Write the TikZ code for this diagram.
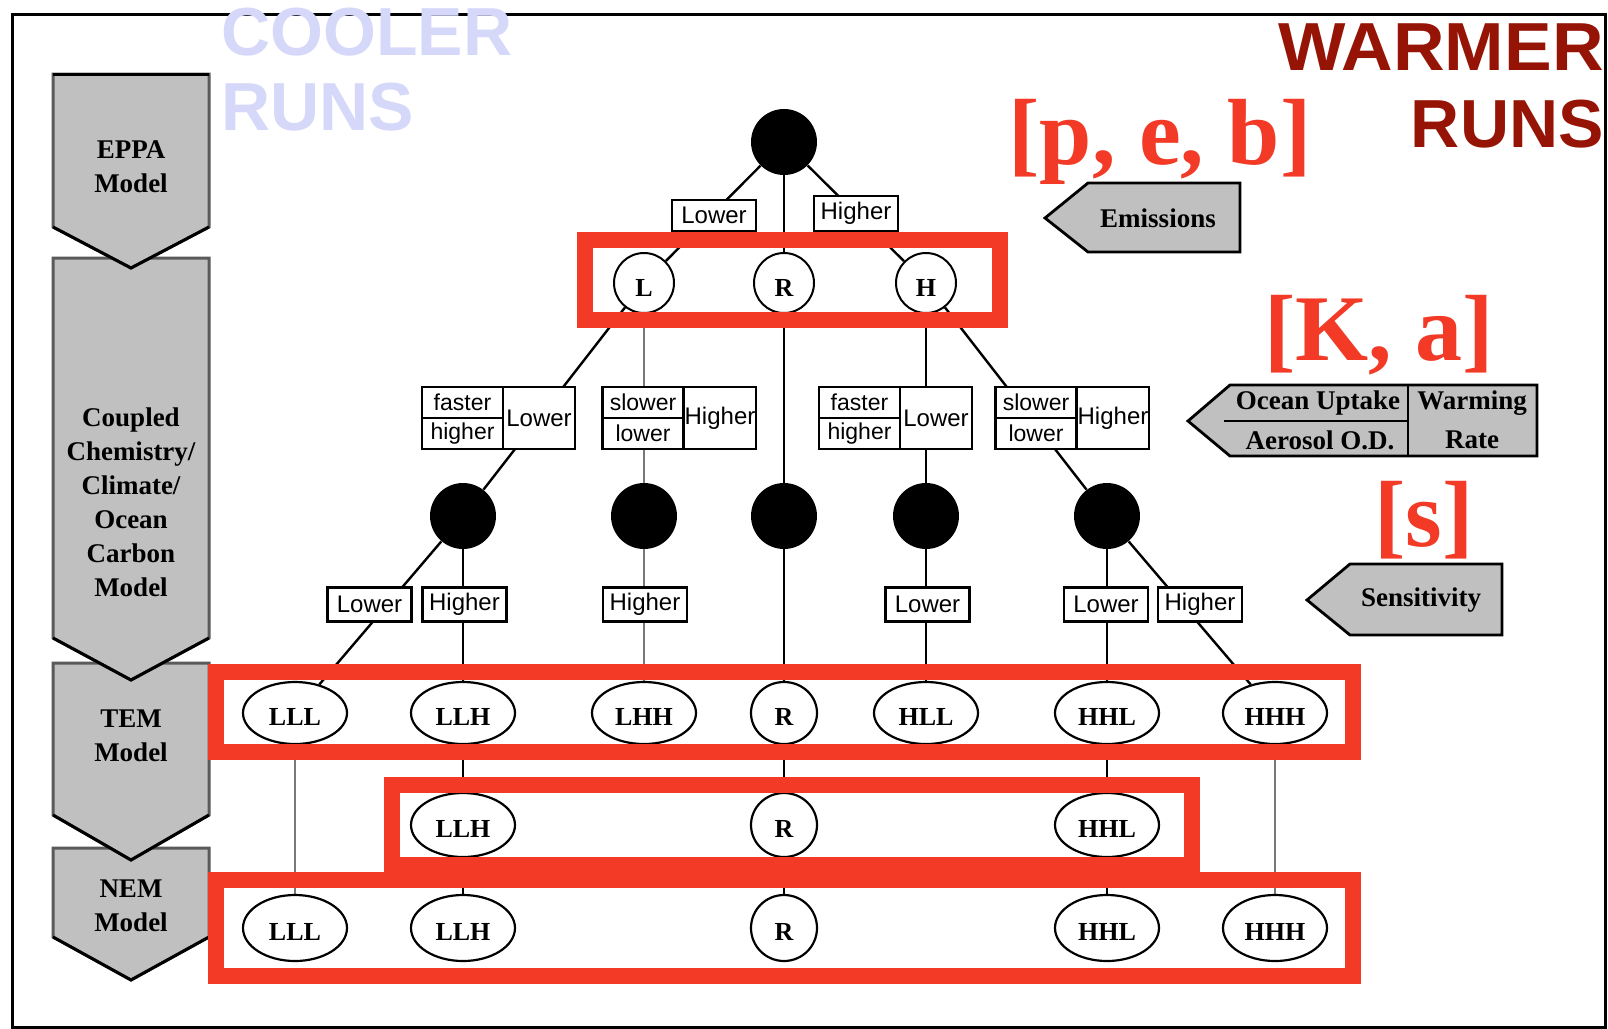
\documentclass[tikz,border=0pt]{standalone}
\usepackage{fontspec}
\setmainfont{Liberation Serif}
\setsansfont{Liberation Sans}
\usetikzlibrary{shapes.geometric}
\pgfdeclarelayer{bg}
\pgfdeclarelayer{canvas}
\pgfsetlayers{canvas,bg,main}
\definecolor{chevgray}{RGB}{192,192,192}
\definecolor{chevedge}{RGB}{90,90,90}
\definecolor{boxred}{RGB}{242,58,38}
\definecolor{warmred}{RGB}{150,20,5}
\definecolor{coolblue}{RGB}{214,216,250}
\definecolor{linegray}{RGB}{120,120,120}
\begin{document}
\begin{tikzpicture}[x=0.5pt,y=-0.5pt,
  conn/.style={line width=1.2pt, black},
  gconn/.style={line width=1.2pt, linegray},
  blackdot/.style={circle, fill=black, draw=none, minimum size=33pt, inner sep=0pt},
  lrh/.style={circle, draw=black, line width=1pt, fill=white, minimum size=30pt, inner sep=0pt, text height=13pt, text depth=0pt, font=\fontsize{13}{15}\selectfont\bfseries},
  oval/.style={ellipse, draw=black, line width=1.1pt, fill=white, minimum width=52pt, minimum height=31pt, inner sep=0pt, text height=12pt, text depth=0pt, font=\fontsize{13}{15}\selectfont\bfseries},
  roval/.style={oval, minimum width=33pt},
  lbl/.style={draw=black, line width=1.3pt, fill=white, inner sep=0pt, minimum width=42pt, minimum height=17pt, font=\sffamily\fontsize{12}{14}\selectfont},
  cell/.style={draw=black, line width=1.3pt, fill=white, inner sep=0pt, minimum width=40.5pt, minimum height=15.5pt, font=\sffamily\fontsize{11.5}{13}\selectfont},
  bigcell/.style={draw=black, line width=1.3pt, fill=white, inner sep=0pt, minimum width=36pt, minimum height=31pt, font=\sffamily\fontsize{12}{14}\selectfont},
  redbox/.style={draw=boxred, line width=8pt},
  chev/.style={fill=chevgray, draw=chevedge, line width=1.5pt, line join=miter},
  vedge/.style={draw=black, line width=1.5pt},
  chevtext/.style={align=center, inner sep=0pt, font=\fontsize{13.5}{17}\selectfont\bfseries},
  arrowbox/.style={fill=chevgray, draw=black, line width=1.4pt, line join=miter},
  sidetext/.style={inner sep=0pt, font=\fontsize{13.5}{16}\selectfont\bfseries},
  bracket/.style={inner sep=0pt, text=boxred, font=\fontsize{47}{50}\selectfont\bfseries},
  runs/.style={inner sep=0pt, font=\sffamily\fontsize{34}{38}\selectfont\bfseries}
]
\useasboundingbox (0,0) rectangle (1608,1029);
\begin{pgfonlayer}{canvas}
\fill[white] (0,0) rectangle (1608,1029);
\end{pgfonlayer}
% outer frame
\draw[line width=1.5pt] (12,14) rectangle (1605,1027);

% left chevrons (bottom first)
\filldraw[chev] (53,848) -- (209,848) -- (209,937) -- (131,980) -- (53,937) -- cycle;
\draw[vedge] (53,937) -- (131,980) -- (209,937);
\filldraw[chev] (53,663) -- (209,663) -- (209,815) -- (131,860) -- (53,815) -- cycle;
\draw[vedge] (53,815) -- (131,860) -- (209,815);
\filldraw[chev] (53,258) -- (209,258) -- (209,638) -- (131,680) -- (53,638) -- cycle;
\draw[vedge] (53,638) -- (131,680) -- (209,638);
\filldraw[chev] (53,74) -- (209,74) -- (209,227) -- (131,268) -- (53,227) -- cycle;
\draw[vedge] (53,227) -- (131,268) -- (209,227);
\draw[vedge] (53,74) -- (209,74);
\node[chevtext] (eppa) at (131,167) {EPPA\\Model};
\node[chevtext] (coupled) at (131,502) {Coupled\\Chemistry/\\Climate/\\Ocean\\Carbon\\Model};
\node[chevtext] (tem) at (131,736) {TEM\\Model};
\node[chevtext] (nem) at (131,906) {NEM\\Model};

% right-hand pointer boxes
\filldraw[arrowbox] (1045,218) -- (1088,183) -- (1240,183) -- (1240,252) -- (1088,252) -- cycle;
\node[sidetext] (emis) at (1158,218) {Emissions};
\filldraw[arrowbox] (1188,421) -- (1230,385) -- (1537,385) -- (1537,456) -- (1230,456) -- cycle;
\draw[line width=1.4pt] (1408,385) -- (1408,456);
\draw[line width=1.4pt] (1224,421) -- (1408,421);
\node[sidetext] (ocean) at (1318,403) {Ocean Uptake};
\node[sidetext] (aero) at (1320,440) {Aerosol O.D.};
\node[sidetext] (warm) at (1472,403) {Warming};
\node[sidetext] (rate) at (1472,440) {Rate};
\filldraw[arrowbox] (1307,600) -- (1350,564) -- (1502,564) -- (1502,635) -- (1350,635) -- cycle;
\node[sidetext] (sens) at (1421,600) {Sensitivity};

% tree nodes
\node[blackdot] (top) at (784,142) {};
\node[lrh] (L) at (644,283) {L};
\node[lrh] (R1) at (784,283) {R};
\node[lrh] (H) at (926,283) {H};
\node[blackdot] (b1) at (463,516) {};
\node[blackdot] (b2) at (644,516) {};
\node[blackdot] (b3) at (784,516) {};
\node[blackdot] (b4) at (926,516) {};
\node[blackdot] (b5) at (1107,516) {};

\node[oval] (tLLL) at (295,713) {LLL};
\node[oval] (tLLH) at (463,713) {LLH};
\node[oval] (tLHH) at (644,713) {LHH};
\node[roval] (tR) at (784,713) {R};
\node[oval] (tHLL) at (926,713) {HLL};
\node[oval] (tHHL) at (1107,713) {HHL};
\node[oval] (tHHH) at (1275,713) {HHH};

\node[oval, minimum height=32pt] (mLLH) at (463,825) {LLH};
\node[roval, minimum height=32pt] (mR) at (784,825) {R};
\node[oval, minimum height=32pt] (mHHL) at (1107,825) {HHL};

\node[oval, minimum height=33pt] (nLLL) at (295,928) {LLL};
\node[oval, minimum height=33pt] (nLLH) at (463,928) {LLH};
\node[roval, minimum height=33pt] (nR) at (784,928) {R};
\node[oval, minimum height=33pt] (nHHL) at (1107,928) {HHL};
\node[oval, minimum height=33pt] (nHHH) at (1275,928) {HHH};

% connectors
\begin{pgfonlayer}{bg}
\draw[conn] (top) -- (L);
\draw[conn] (top) -- (R1);
\draw[conn] (top) -- (H);
\draw[conn] (L) -- (b1);
\draw[gconn] (L) -- (b2);
\draw[conn] (R1) -- (b3);
\draw[conn] (H) -- (b4);
\draw[conn] (H) -- (b5);
\draw[conn] (b1) -- (tLLL);
\draw[conn] (b1) -- (tLLH);
\draw[gconn] (b2) -- (tLHH);
\draw[conn] (b3) -- (tR);
\draw[conn] (b4) -- (tHLL);
\draw[conn] (b5) -- (tHHL);
\draw[conn] (b5) -- (tHHH);
\draw[gconn] (tLLL) -- (nLLL);
\draw[conn] (tLLH) -- (mLLH);
\draw[conn] (mLLH) -- (nLLH);
\draw[conn] (tR) -- (mR);
\draw[conn] (mR) -- (nR);
\draw[conn] (tHHL) -- (mHHL);
\draw[conn] (mHHL) -- (nHHL);
\draw[gconn] (tHHH) -- (nHHH);
\end{pgfonlayer}

% labels on connectors
\node[lbl, minimum height=15.5pt] (lab1) at (714,215.5) {Lower};
\node[lbl, minimum height=17.5pt] (lab2) at (856,213.5) {Higher};

\node[cell] (c1a) at (462.5,402.5) {faster};
\node[cell] (c1b) at (462.5,433.5) {higher};
\node[bigcell] (c1c) at (539,418) {Lower};
\node[cell] (c2a) at (643,402.5) {slower};
\node[cell] (c2b) at (643,433.5) {lower};
\node[bigcell] (c2c) at (720,418) {Higher};
\node[cell] (c3a) at (859.5,402.5) {faster};
\node[cell] (c3b) at (859.5,433.5) {higher};
\node[bigcell] (c3c) at (936,418) {Lower};
\node[cell] (c4a) at (1036,402.5) {slower};
\node[cell] (c4b) at (1036,433.5) {lower};
\node[bigcell] (c4c) at (1113,418) {Higher};

\node[lbl] (r1) at (369.5,604.5) {Lower};
\node[lbl] (r2) at (464.5,604.5) {Higher};
\node[lbl] (r3) at (645,604.5) {Higher};
\node[lbl] (r4) at (927.5,604.5) {Lower};
\node[lbl] (r5) at (1106,604.5) {Lower};
\node[lbl] (r6) at (1200,604.5) {Higher};

% red highlight boxes
\draw[redbox] (585,240) rectangle (1000,320);
\draw[redbox] (216,672) rectangle (1353,751.5);
\draw[redbox] (392,784.5) rectangle (1192,864.5);
\draw[redbox] (216,880) rectangle (1353,976);

% big annotations
\node[bracket] (pe) at (1160,142) {[p, e, b]};
\node[bracket] (ka) at (1379,335) {[K, a]};
\node[bracket] (ss) at (1424,520) {[s]};

\node[runs, text=coolblue, anchor=base west] (cool1) at (221,55) {COOLER};
\node[runs, text=coolblue, anchor=base west] (cool2) at (221,130) {RUNS};
\node[runs, text=warmred, anchor=base east, xscale=1.05] (warm1) at (1604,70) {WARMER};
\node[runs, text=warmred, anchor=base east] (warm2) at (1604,147) {RUNS};
\end{tikzpicture}
\end{document}
